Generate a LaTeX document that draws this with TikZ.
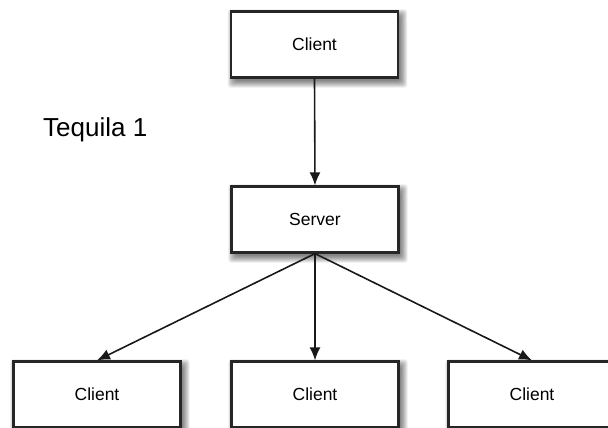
\documentclass[tikz,border=0pt]{standalone}
\usepackage{fontspec}
\setmainfont{Liberation Sans}
\usetikzlibrary{arrows.meta,backgrounds}

\tikzset{
  box/.style={draw=black!85, line width=2.2pt, fill=white,
    minimum width=167pt, minimum height=66pt, inner sep=0pt,
    font=\fontsize{17.5}{20}\selectfont},
  link/.style={line width=1.6pt, draw=black!90,
    -{Latex[length=13pt,width=11pt]}},
  heading/.style={font=\fontsize{26}{30}\selectfont, anchor=base west, inner sep=0pt},
  shadowlayer/.style={fill=black, opacity=0.08, rounded corners=3pt}
}

\begin{document}
\begin{tikzpicture}[x=1pt,y=1pt]
  \path[use as bounding box] (0,0) rectangle (608,428);
  \clip (0,0) rectangle (608,428);

  % top client and the server below it
  \node[box] (top) at (314.5,383.5) {Client};
  \node[box] (srv) at (315,208.5) {Server};

  % row of clients along the bottom edge
  \node[box] (c1) at (97,33.5)  {Client};
  \node[box] (c2) at (315,33.5) {Client};
  \node[box] (c3) at (532,33.5) {Client};

  \node[heading] (title) at (43,291) {Tequila 1};

  % soft drop shadows, stacked translucent layers
  \begin{scope}[on background layer]
    \foreach \n in {top,srv,c1,c2,c3}
      \foreach \g in {-2,-1,0,1,2,3,4,5}
        \path[shadowlayer]
          ([xshift=3pt-\g pt,yshift=-4pt-\g pt]\n.south west)
          rectangle ([xshift=3pt+\g pt,yshift=-4pt+\g pt]\n.north east);
  \end{scope}

  \draw[link] (top.south) -- (srv.north);
  \draw[link] (srv.south) -- (c1.north);
  \draw[link] (srv.south) -- (c2.north);
  \draw[link] (srv.south) -- (c3.north);
\end{tikzpicture}
\end{document}
